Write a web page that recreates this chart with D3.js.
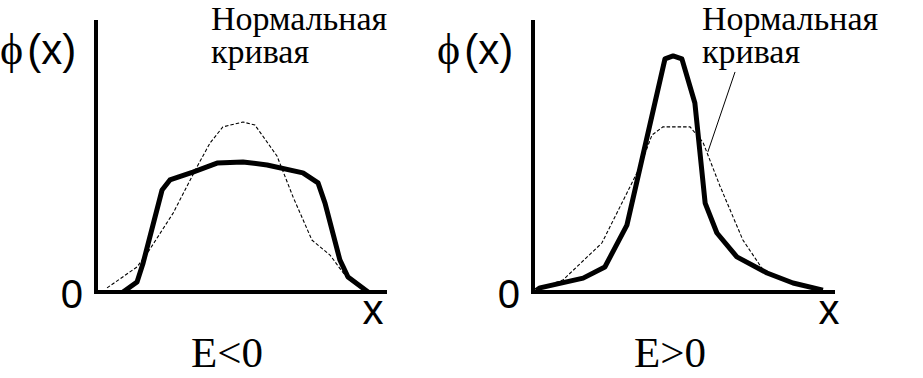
<!DOCTYPE html>
<html>
<head>
<meta charset="utf-8">
<script src="https://cdn.jsdelivr.net/npm/d3@7"></script>
<style>
  html, body { margin: 0; padding: 0; background: #fff; }
  svg { display: block; }
</style>
</head>
<body>
<svg id="chart" width="923" height="378"></svg>
<script>
// Левая панель (E<0): плосковершинная кривая и нормальная
const leftX = [0.93, 1.41, 1.62, 2.27, 2.54, 3.33, 4.16, 5.05, 5.88, 7.11, 7.63, 7.87, 8.38, 8.66, 9.35];
const leftY = [0, 0.037, 0.107, 0.375, 0.412, 0.441, 0.474, 0.478, 0.467, 0.438, 0.401, 0.327, 0.118, 0.055, 0];
const leftNormX = [0.38, 1.41, 1.79, 2.65, 3.47, 3.92, 4.36, 5.05, 5.46, 6.22, 6.77, 7.42, 8.04, 8.63, 9.31];
const leftNormY = [0.015, 0.092, 0.147, 0.29, 0.46, 0.548, 0.607, 0.625, 0.614, 0.5, 0.35, 0.191, 0.136, 0.051, 0];

// Правая панель (E>0): островершинная кривая и нормальная
const rightX = [0.1, 0.23, 1.66, 2.38, 3.11, 4.37, 4.64, 4.93, 5.36, 5.7, 6.09, 6.75, 7.75, 8.61, 9.6];
const rightY = [0.005, 0.015, 0.051, 0.092, 0.246, 0.857, 0.868, 0.857, 0.695, 0.327, 0.217, 0.129, 0.07, 0.033, 0.007];
const rightNormX = [0.23, 0.99, 2.28, 3.11, 3.54, 3.94, 4.3, 5.2, 5.63, 6.19, 6.95, 7.62, 8.61, 9.6];
const rightNormY = [0.015, 0.044, 0.18, 0.364, 0.46, 0.577, 0.607, 0.607, 0.55, 0.39, 0.191, 0.081, 0.033, 0.007];

// Выноска «Нормальная кривая» на правой панели
const leaderX = [6.69, 5.79];
const leaderY = [0.809, 0.515];

const yLabel = 'ϕ';
const normalLabel = ['Нормальная', 'кривая'];
const zeroLabel = '0';
const xLabel = 'x';

const SERIF = '"Liberation Serif", "Times New Roman", serif';
const SANS = '"Liberation Sans", Arial, sans-serif';

const svg = d3.select('#chart');
const zip = (xs, ys) => xs.map((x, i) => [x, ys[i]]);

function drawPanel(opts) {
  const x = d3.scaleLinear().domain([0, 10]).range(opts.xRange);
  const y = d3.scaleLinear().domain([0, 1]).range([292, 20]);
  const g = svg.append('g');
  const line = d3.line().x((d) => x(d[0])).y((d) => y(d[1]));

  // оси
  g.append('line')
    .attr('x1', x(0)).attr('x2', x(0))
    .attr('y1', y(1)).attr('y2', y(0) + 2)
    .attr('stroke', '#000').attr('stroke-width', 4);
  g.append('line')
    .attr('x1', x(0) - 2).attr('x2', x(10))
    .attr('y1', y(0)).attr('y2', y(0))
    .attr('stroke', '#000').attr('stroke-width', 4);

  g.append('path')
    .datum(opts.norm)
    .attr('d', line)
    .attr('fill', 'none')
    .attr('stroke', '#000')
    .attr('stroke-width', 1.1)
    .attr('stroke-dasharray', '3.5 2');

  g.append('path')
    .datum(opts.curve)
    .attr('d', line)
    .attr('fill', 'none')
    .attr('stroke', '#000')
    .attr('stroke-width', 5)
    .attr('stroke-linejoin', 'round');

  if (opts.leader) {
    g.append('path')
      .datum(opts.leader)
      .attr('d', line)
      .attr('stroke', '#000')
      .attr('stroke-width', 1);
  }

  // подписи
  const ylab = g.append('text').attr('x', opts.yLabelX).attr('y', 64)
    .attr('font-family', SANS).attr('font-size', 42);
  ylab.append('tspan').attr('font-family', SERIF).attr('font-size', 44).text(yLabel);
  ylab.append('tspan').attr('dx', 4).text('(x)');

  g.append('text').attr('font-family', SANS).attr('font-size', 40)
    .attr('x', x(0) - 13).attr('y', 308).attr('text-anchor', 'end').text(zeroLabel);
  g.append('text').attr('font-family', SANS).attr('font-size', 42)
    .attr('x', x(10) - opts.xLabelShift).attr('y', 324).attr('text-anchor', 'middle').text(xLabel);

  g.append('text').attr('font-family', SERIF).attr('font-size', 43)
    .attr('x', opts.titleX).attr('y', 367).attr('text-anchor', 'middle').text(opts.title);

  normalLabel.forEach((t, i) => {
    g.append('text').attr('font-family', SERIF).attr('font-size', 34)
      .attr('x', opts.normX).attr('y', 30 + i * 33).text(t);
  });
}

drawPanel({
  xRange: [96, 387],
  curve: zip(leftX, leftY),
  norm: zip(leftNormX, leftNormY),
  yLabelX: 0,
  xLabelShift: 14,
  titleX: 227,
  title: 'E<0',
  normX: 211
});

drawPanel({
  xRange: [533, 835],
  curve: zip(rightX, rightY),
  norm: zip(rightNormX, rightNormY),
  leader: zip(leaderX, leaderY),
  yLabelX: 437,
  xLabelShift: 6,
  titleX: 670,
  title: 'E>0',
  normX: 702
});
</script>
</body>
</html>
